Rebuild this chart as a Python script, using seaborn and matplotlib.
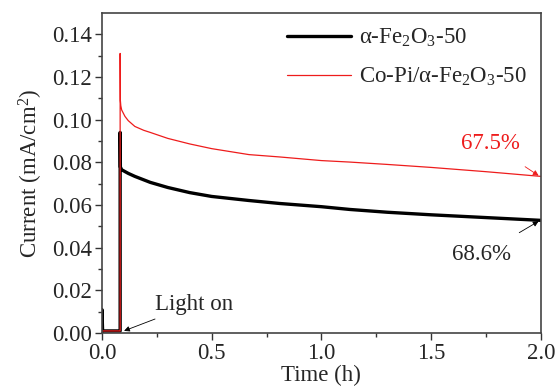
import pandas as pd
import matplotlib
matplotlib.use("Agg")
import matplotlib.pyplot as plt
import seaborn as sns

# photocurrent stability curves
black_t = [0.0, 0.0, 0.003, 0.083, 0.083, 0.084, 0.09, 0.12, 0.15, 0.22, 0.30,
           0.40, 0.50, 0.67, 0.81, 1.00, 1.13, 1.30, 1.50, 1.75, 2.00]
black_i = [0.0, 0.011, 0.001, 0.001, 0.094, 0.0778, 0.0765, 0.0748, 0.0734, 0.0706, 0.0682,
           0.0658, 0.0640, 0.0621, 0.0607, 0.0592, 0.0579, 0.0566, 0.0554, 0.0541, 0.0528]

red_t = [0.0, 0.083, 0.083, 0.084, 0.086, 0.09, 0.105, 0.12, 0.15, 0.19, 0.22, 0.30,
         0.40, 0.50, 0.67, 0.81, 1.00, 1.13, 1.30, 1.50, 1.75, 2.00]
red_i = [0.001, 0.001, 0.131, 0.109, 0.1065, 0.1045, 0.1015, 0.0995, 0.0968, 0.0950, 0.0940, 0.0912,
         0.0886, 0.0864, 0.0836, 0.0825, 0.0808, 0.0801, 0.0790, 0.0776, 0.0756, 0.0734]

labels = [r"$\alpha$-Fe$_2$O$_3$-50", r"Co-Pi/$\alpha$-Fe$_2$O$_3$-50"]
retention = ["68.6%", "67.5%"]

sns.set_style("ticks")
plt.rcParams["font.family"] = ["Liberation Serif", "DejaVu Serif"]
plt.rcParams["mathtext.fontset"] = "custom"
plt.rcParams["mathtext.rm"] = "Liberation Serif"
plt.rcParams["mathtext.it"] = "Liberation Serif"
plt.rcParams["mathtext.default"] = "rm"

fs = 16.5

df_black = pd.DataFrame({"t": black_t, "i": black_i})
df_red = pd.DataFrame({"t": red_t, "i": red_i})

fig = plt.figure(figsize=(5.57, 3.90), dpi=100)
ax = fig.add_axes([0.183, 0.146, 0.788, 0.821])

sns.lineplot(data=df_black, x="t", y="i", ax=ax, sort=False, estimator=None,
             color="black", lw=2.4, label=labels[0])
sns.lineplot(data=df_red, x="t", y="i", ax=ax, sort=False, estimator=None,
             color="#ee1c1c", lw=0.9, label=labels[1])

ax.set_xlim(0, 2.0)
ax.set_ylim(0, 0.15)
ax.set_xticks([0.0, 0.5, 1.0, 1.5, 2.0])
ax.set_xticklabels(["0.0", "0.5", "1.0", "1.5", "2.0"])
ax.set_yticks([0.0, 0.02, 0.04, 0.06, 0.08, 0.10, 0.12, 0.14])
ax.set_yticklabels(["0.00", "0.02", "0.04", "0.06", "0.08", "0.10", "0.12", "0.14"])
ax.set_xticks([0.25, 0.75, 1.25, 1.75], minor=True)
ax.set_yticks([0.01, 0.03, 0.05, 0.07, 0.09, 0.11, 0.13], minor=True)
ax.tick_params(which="major", direction="out", length=5, width=1, labelsize=fs, pad=2, color="#333333")
ax.tick_params(which="minor", direction="out", length=3, width=1, color="#333333")

for s in ax.spines.values():
    s.set_visible(True)
    s.set_linewidth(1.2)
    s.set_color("#444444")

ax.set_xlabel("Time (h)", fontsize=fs, labelpad=1)
ax.set_ylabel(r"Current (mA/cm$^2$)", fontsize=fs, labelpad=5)

leg = ax.legend(loc="upper right", frameon=False, fontsize=fs, handlelength=2.8,
                handletextpad=0.35, labelspacing=0.75, borderaxespad=0.2)

arrow_k = dict(arrowstyle="-|>", lw=0.6, mutation_scale=8)
ax.annotate("Light on", xy=(0.095, 0.0008), xytext=(0.24, 0.0135), fontsize=fs,
            ha="left", va="center",
            arrowprops=dict(color="black", shrinkA=2, shrinkB=1, **arrow_k))
ax.annotate(retention[0], xy=(1.995, 0.0527), xytext=(1.73, 0.0366), fontsize=fs,
            ha="center", va="center",
            arrowprops=dict(color="black", shrinkA=12, shrinkB=1, **arrow_k))
ax.annotate(retention[1], xy=(1.995, 0.0734), xytext=(1.77, 0.0887), fontsize=fs,
            ha="center", va="center", color="#ee1c1c",
            arrowprops=dict(color="#ee1c1c", shrinkA=12, shrinkB=1, **arrow_k))

plt.savefig("out.png", dpi=100)
